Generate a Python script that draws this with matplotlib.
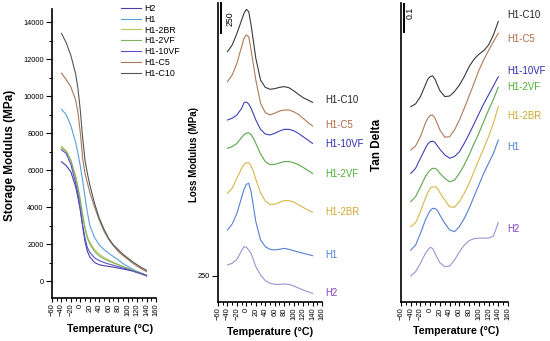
import numpy as np
import matplotlib
matplotlib.use('Agg')
import matplotlib.pyplot as plt
from matplotlib.ticker import MultipleLocator, NullLocator

plt.rcParams['font.family'] = ['Liberation Sans', 'DejaVu Sans']

# temperature grid (C) shared by all curves
temp = [-40, -30, -20, -10, -5, 0, 5, 10, 15, 20, 30, 40, 50, 60, 70, 80, 90, 100, 110, 120, 130, 140]
samples = ['H2', 'H1', 'H1-2BR', 'H1-2VF', 'H1-10VF', 'H1-C5', 'H1-C10']

# storage modulus (MPa)
storage_h2 = [6450, 6250, 5900, 5100, 4500, 3800, 2900, 2100, 1600, 1300, 1000, 880, 830, 790, 750, 700, 650, 600, 540, 460, 370, 270]
storage_h1 = [9300, 9000, 8400, 7500, 6900, 6200, 5400, 4500, 3700, 3000, 2350, 1950, 1700, 1500, 1320, 1150, 950, 800, 650, 520, 420, 320]
storage_2br = [7300, 7050, 6550, 5700, 5100, 4400, 3600, 2900, 2400, 2100, 1700, 1450, 1280, 1130, 1010, 900, 790, 690, 590, 490, 400, 310]
storage_2vf = [7200, 7000, 6500, 5600, 5000, 4300, 3500, 2800, 2300, 2000, 1600, 1350, 1200, 1080, 980, 880, 780, 680, 580, 480, 390, 300]
storage_10vf = [7100, 6900, 6300, 5300, 4700, 3900, 3000, 2300, 1800, 1550, 1250, 1100, 1000, 920, 850, 780, 700, 630, 550, 470, 390, 300]
storage_c5 = [11250, 10900, 10500, 9800, 9100, 8000, 6600, 5800, 5300, 4800, 4000, 3300, 2700, 2250, 1900, 1600, 1380, 1180, 980, 800, 650, 500]
storage_c10 = [13400, 12900, 12200, 11200, 10400, 9200, 7700, 6500, 5800, 5200, 4200, 3400, 2800, 2300, 1950, 1700, 1450, 1250, 1050, 880, 720, 580]

# loss modulus (MPa)
loss_h2 = [342, 355, 389, 461, 494, 489, 466, 439, 383, 328, 258, 211, 189, 180, 180, 183, 180, 167, 150, 133, 119, 105]
loss_h1 = [383, 433, 522, 655, 722, 764, 772, 703, 578, 453, 300, 244, 222, 217, 222, 230, 222, 211, 200, 189, 180, 169]
loss_2br = [439, 480, 564, 647, 680, 694, 694, 667, 619, 555, 444, 375, 347, 347, 364, 378, 378, 367, 344, 322, 300, 280]
loss_2vf = [564, 578, 605, 655, 678, 689, 694, 678, 647, 605, 517, 453, 428, 430, 442, 453, 453, 444, 428, 405, 380, 355]
loss_10vf = [550, 564, 592, 647, 694, 700, 683, 647, 600, 550, 472, 433, 425, 439, 458, 472, 472, 461, 439, 411, 383, 355]
loss_c5 = [619, 675, 772, 911, 981, 1008, 994, 883, 758, 633, 439, 361, 342, 356, 375, 383, 383, 369, 347, 314, 280, 250]
loss_c10 = [619, 675, 772, 883, 939, 972, 953, 842, 703, 564, 383, 322, 306, 311, 322, 328, 319, 294, 264, 236, 217, 197]

# tan delta
tan_h2 = [0.079, 0.094, 0.124, 0.159, 0.171, 0.181, 0.177, 0.159, 0.142, 0.126, 0.112, 0.114, 0.136, 0.165, 0.189, 0.205, 0.212, 0.214, 0.214, 0.214, 0.221, 0.269]
tan_h1 = [0.071, 0.089, 0.131, 0.178, 0.196, 0.212, 0.220, 0.220, 0.212, 0.196, 0.167, 0.143, 0.137, 0.155, 0.184, 0.220, 0.262, 0.303, 0.345, 0.381, 0.416, 0.464]
tan_2br = [0.055, 0.069, 0.108, 0.156, 0.176, 0.192, 0.197, 0.197, 0.192, 0.176, 0.150, 0.126, 0.124, 0.144, 0.174, 0.209, 0.251, 0.293, 0.334, 0.376, 0.424, 0.483]
tan_2vf = [0.044, 0.062, 0.097, 0.133, 0.147, 0.157, 0.163, 0.163, 0.157, 0.145, 0.127, 0.115, 0.121, 0.145, 0.175, 0.211, 0.250, 0.288, 0.330, 0.371, 0.409, 0.452]
tan_10vf = [0.045, 0.063, 0.099, 0.134, 0.150, 0.158, 0.160, 0.155, 0.143, 0.131, 0.111, 0.099, 0.105, 0.122, 0.152, 0.185, 0.221, 0.257, 0.293, 0.325, 0.357, 0.390]
tan_c5 = [0.028, 0.043, 0.076, 0.124, 0.141, 0.152, 0.153, 0.141, 0.121, 0.100, 0.074, 0.076, 0.100, 0.135, 0.177, 0.221, 0.266, 0.312, 0.350, 0.383, 0.415, 0.445]
tan_c10 = [0.083, 0.093, 0.119, 0.160, 0.181, 0.190, 0.193, 0.181, 0.160, 0.140, 0.119, 0.121, 0.137, 0.160, 0.190, 0.226, 0.252, 0.270, 0.283, 0.303, 0.339, 0.387]

storage = dict(zip(samples, [storage_h2, storage_h1, storage_2br, storage_2vf, storage_10vf, storage_c5, storage_c10]))
loss = dict(zip(samples, [loss_h2, loss_h1, loss_2br, loss_2vf, loss_10vf, loss_c5, loss_c10]))
tan = dict(zip(samples, [tan_h2, tan_h1, tan_2br, tan_2vf, tan_10vf, tan_c5, tan_c10]))

# vertical stacking of the curves in panels 2 and 3
loss_shift = dict(zip(samples, [0, 250, 500, 750, 1000, 1250, 1500]))
tan_shift = dict(zip(samples, [0, 0.1, 0.2, 0.3, 0.4, 0.5, 0.6]))

col_storage = dict(zip(samples, ['#4a3fa8', '#5aa0d8', '#b8c860', '#80b060', '#5a50c8', '#a87858', '#505858']))
col_curve = dict(zip(samples, ['#a090d0', '#5580d0', '#d8b84a', '#5aa84a', '#4040b8', '#b07a55', '#3a3a3a']))
col_text = dict(zip(samples, ['#8040c0', '#4a80d0', '#d0a830', '#4caf30', '#2a2ab0', '#b06a40', '#222222']))

W, H = 550, 341
fig = plt.figure(figsize=(5.5, 3.41), dpi=100)


def rect(l, t, r, b):
    return [l / W, 1 - b / H, (r - l) / W, (b - t) / H]


def style(ax):
    for s in ['top', 'right']:
        ax.spines[s].set_visible(False)
    for s in ['left', 'bottom']:
        ax.spines[s].set_linewidth(1.2)
    ax.set_xlim(-60, 160)
    ax.xaxis.set_major_locator(MultipleLocator(20))
    ax.xaxis.set_minor_locator(MultipleLocator(10))
    ax.tick_params(axis='x', which='major', direction='out', length=3, width=0.8,
                   labelsize=5.4, labelrotation=90, pad=1)
    ax.tick_params(axis='x', which='minor', direction='out', length=2, width=0.7)
    ax.set_facecolor('none')


def fig_text(x, y, s, **kw):
    fig.text(x / W, 1 - y / H, s, **kw)


# panel 1: storage modulus
ax1 = fig.add_axes(rect(52, 9, 156, 298))
style(ax1)
for s in samples:
    ax1.plot(temp, storage[s], color=col_storage[s], lw=0.8, label=s)
ax1.set_ylim(-920, 14720)
ax1.yaxis.set_major_locator(MultipleLocator(2000))
ax1.yaxis.set_minor_locator(MultipleLocator(1000))
ax1.tick_params(axis='y', which='major', direction='out', length=4, width=0.8, labelsize=5.3, pad=2)
ax1.tick_params(axis='y', which='minor', direction='out', length=2, width=0.7)
fig.legend(loc='upper left', bbox_to_anchor=(121 / W, 1 - 4 / H), frameon=False,
           fontsize=6.4, handlelength=2.2, handletextpad=0.4, labelspacing=0.2,
           borderpad=0, borderaxespad=0)

# panel 2: loss modulus
ax2 = fig.add_axes(rect(218, 3, 322, 302))
style(ax2)
for s in samples:
    ax2.plot(temp, np.array(loss[s]) + loss_shift[s], color=col_curve[s], lw=0.8)
ax2.set_ylim(33, 2525)
ax2.set_yticks([250])
ax2.yaxis.set_minor_locator(NullLocator())
ax2.tick_params(axis='y', direction='out', length=4, width=0.8, labelsize=5.3, pad=2)
ax2.plot([-53.7, -53.7], [2525, 2275], color='black', lw=1.4, clip_on=False)
ax2.text(-35, 2392, '250', rotation=90, fontsize=6.3, ha='center', va='center')

# panel 3: tan delta
ax3 = fig.add_axes(rect(401, 3, 508, 302))
style(ax3)
for s in samples:
    ax3.plot(temp, np.array(tan[s]) + tan_shift[s], color=col_curve[s], lw=0.8)
ax3.set_ylim(-0.014, 1.053)
ax3.yaxis.set_major_locator(NullLocator())
ax3.yaxis.set_minor_locator(NullLocator())
ax3.plot([-53.8, -53.8], [1.05, 0.95], color='black', lw=1.4, clip_on=False)
ax3.text(-41.5, 1.017, '0.1', rotation=90, fontsize=6.3, ha='center', va='center')

# axis titles
fig_text(10, 155, 'Storage Modulus (MPa)', rotation=90, fontsize=8.5, fontweight='bold', ha='center', va='center')
fig_text(194, 155, 'Loss Modulus (MPa)', rotation=90, fontsize=7, fontweight='bold', ha='center', va='center')
fig_text(377, 145, 'Tan Delta', rotation=90, fontsize=8.5, fontweight='bold', ha='center', va='center')
fig_text(110, 329, 'Temperature (°C)', fontsize=7.7, fontweight='bold', ha='center', va='center')
fig_text(270, 332, 'Temperature (°C)', fontsize=7.7, fontweight='bold', ha='center', va='center')
fig_text(456, 331, 'Temperature (°C)', fontsize=7.7, fontweight='bold', ha='center', va='center')

# curve names next to the stacked curves
loss_label_y = dict(zip(samples, [293, 255, 212, 174, 144, 125, 100]))
tan_label_y = dict(zip(samples, [229, 147, 116, 87, 71, 39, 15]))
for s in samples:
    fig_text(325, loss_label_y[s], s, color=col_text[s], fontsize=6.9, ha='left', va='center')
    fig_text(507, tan_label_y[s], s, color=col_text[s], fontsize=6.9, ha='left', va='center')

fig.savefig('out.png', dpi=100)
